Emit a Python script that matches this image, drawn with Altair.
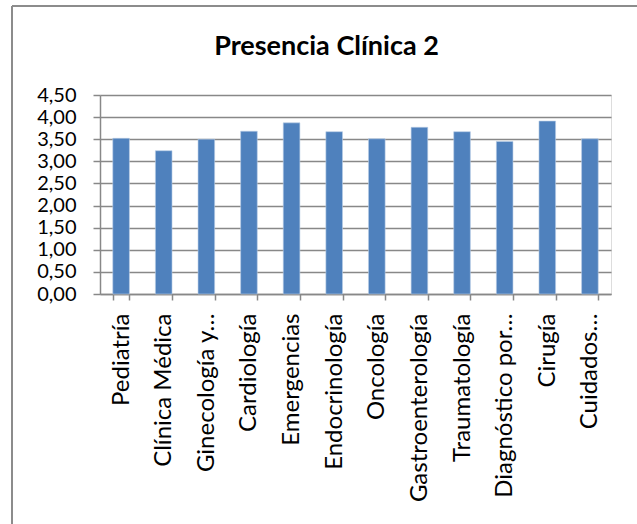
import altair as alt
import pandas as pd

# Servicios y puntaje medio de presencia clínica
servicios = [
    "Pediatría", "Clínica Médica", "Ginecología y…", "Cardiología",
    "Emergencias", "Endocrinología", "Oncología", "Gastroenterología",
    "Traumatología", "Diagnóstico por…", "Cirugía", "Cuidados…",
]
puntajes = [3.52, 3.24, 3.50, 3.68, 3.87, 3.67, 3.51, 3.77, 3.67, 3.45, 3.91, 3.51]
ticks_y = [0, 0.5, 1.0, 1.5, 2.0, 2.5, 3.0, 3.5, 4.0, 4.5]

df = pd.DataFrame({"servicio": servicios, "puntaje": puntajes})

FONT = "Lato"
GRID = "#888888"

bars = alt.Chart(df).mark_bar(
    color="#4f81bd", stroke="#b9cde5", strokeWidth=0.6
).encode(
    x=alt.X(
        "servicio:N", sort=servicios, title=None,
        scale=alt.Scale(paddingInner=0.61, paddingOuter=0.3),
        axis=alt.Axis(
            labelAngle=-90, labelFont=FONT, labelFontSize=24, labelColor="#000000",
            labelPadding=13, labelLimit=220, tickSize=6, tickColor=GRID,
            domainColor=GRID, domainWidth=1.5, tickWidth=1.5, tickBand="extent",
            grid=False,
        ),
    ),
    y=alt.Y(
        "puntaje:Q", title=None,
        scale=alt.Scale(domain=[0, 4.5], nice=False),
        axis=alt.Axis(
            values=ticks_y,
            labelExpr="replace(format(datum.value, '.2f'), '.', ',')",
            labelFont=FONT, labelFontSize=20, labelColor="#000000",
            labelPadding=17, tickSize=7, tickColor=GRID, tickWidth=1.5,
            domainColor=GRID, domainWidth=1.5,
            gridColor=GRID, gridWidth=1.5,
        ),
    ),
)

# Marco exterior del gráfico (bordes superior e izquierdo)
frame_top = alt.Chart(df).mark_rule(color="#8c8c8c", strokeWidth=1.5).encode(
    x=alt.value(-88), x2=alt.value(540), y=alt.value(-89)
)
frame_left = alt.Chart(df).mark_rule(color="#8c8c8c", strokeWidth=1.5).encode(
    x=alt.value(-88), y=alt.value(-89), y2=alt.value(440)
)

chart = alt.layer(bars, frame_top, frame_left).properties(
    width=511,
    height=199,
    autosize=alt.AutoSizeParams(type="none"),
    padding={"left": 100, "top": 95, "right": 26, "bottom": 230},
    title=alt.TitleParams(
        "Presencia Clínica 2", font=FONT, fontSize=27, fontWeight="bold",
        color="#000000", anchor="middle", dx=-29, offset=0, dy=83,
        baseline="bottom",
    ),
).configure_view(stroke=None).configure(background="#ffffff")

chart.save("out.html", embed_options={"renderer": "svg", "actions": False})
